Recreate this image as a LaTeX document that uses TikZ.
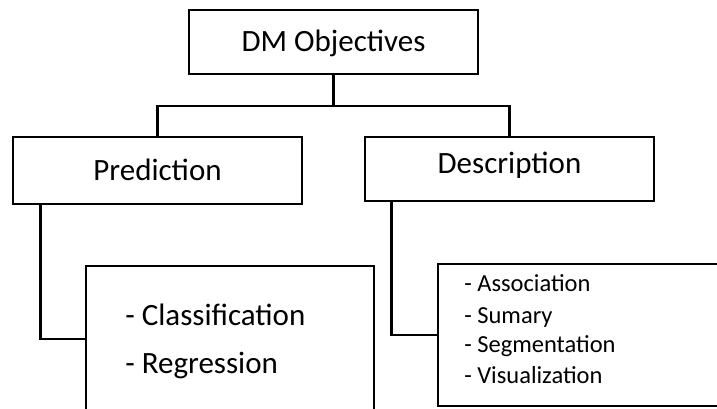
\documentclass[tikz,border=0pt]{standalone}
\usepackage{fontspec}
\setmainfont{Carlito}
\begin{document}
\begin{tikzpicture}[x=1pt,y=-1pt,
  line width=2.6pt,
  box/.style={draw=black, rectangle, inner sep=0pt, text height=20pt, text depth=0pt,
    font=\fontsize{31}{37}\selectfont},
  listbox/.style={draw=black, rectangle, inner sep=0pt, fill=white},
  bigitem/.style={anchor=base west, inner sep=0pt, font=\fontsize{31}{37}\selectfont},
  smallitem/.style={anchor=base west, inner sep=0pt, font=\fontsize{24.5}{29}\selectfont},
  link/.style={draw=black, line width=2.6pt}]
\useasboundingbox (0,0) rectangle (717,409);
\fill[white] (0,0) rectangle (717,409);
\clip (0,0) rectangle (717,409);

% top level
\node[box, minimum width=289pt, minimum height=64pt] (top) at (333.5,42) {DM Objectives};

% second level
\node[box, minimum width=289pt, minimum height=67pt] (pred) at (157.5,170.5) {Prediction};
\node[box, minimum width=289pt, minimum height=64pt, text depth=12pt] (desc) at (509.5,169) {Description};

% task lists (the boxes run past the page edge)
\node[listbox, minimum width=288pt, minimum height=146pt] (cls) at (230,339) {};
\node[listbox, minimum width=292pt, minimum height=142pt] (dsl) at (584,335) {};

\node[bigitem] (c1) at (124,325) {- Classification};
\node[bigitem] (c2) at (124,373) {- Regression};

\node[smallitem] (d1) at (463,291) {- Association};
\node[smallitem] (d2) at (463,323) {- Sumary};
\node[smallitem] (d3) at (463,352) {- Segmentation};
\node[smallitem] (d4) at (463,383) {- Visualization};

% tree connectors
\coordinate (bus) at (333.5,106);
\draw[link] (top.south) -- (bus);
\draw[link] (bus) -| (pred.north);
\draw[link] (bus) -| (desc.north);

\coordinate (pl) at ([xshift=29pt]pred.south west);
\draw[link] (pl) |- (cls.west);
\coordinate (dl) at ([xshift=28pt]desc.south west);
\draw[link] (dl) |- (dsl.west);
\end{tikzpicture}
\end{document}
